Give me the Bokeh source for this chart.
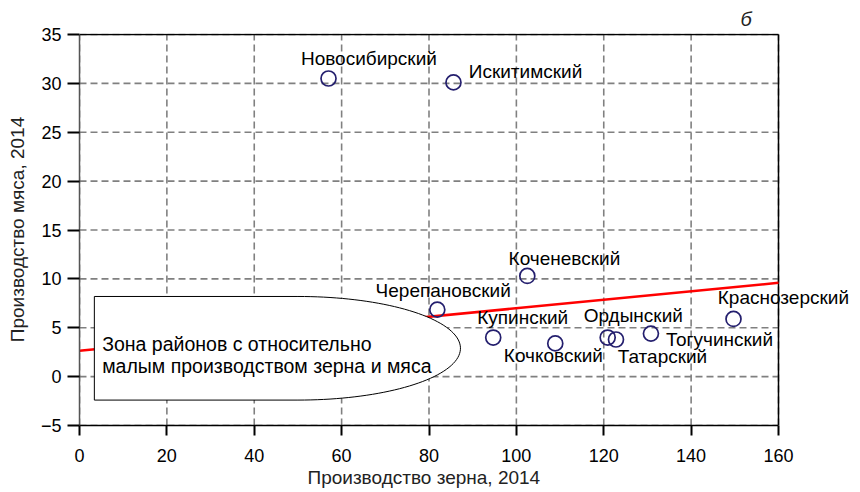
import numpy as np
from bokeh.plotting import figure
from bokeh.models import (ColumnDataSource, Range1d, FixedTicker, LabelSet, Label, Title)
from bokeh.core.properties import value
from bokeh.embed import file_html
from bokeh.resources import INLINE

# ---- data ----
districts = ["Новосибирский", "Искитимский", "Коченевский", "Черепановский", "Купинский",
             "Кочковский", "Ордынский", "Татарский", "Тогучинский", "Краснозерский"]
grain = [57.0, 85.6, 102.5, 81.9, 94.7, 108.9, 120.9, 122.8, 130.8, 149.7]
meat = [30.5, 30.1, 10.3, 6.85, 4.0, 3.4, 4.0, 3.8, 4.4, 5.9]
trend_x = [0, 160]
trend_y = [2.65, 9.6]
x_ticks = [0, 20, 40, 60, 80, 100, 120, 140, 160]
y_ticks = [-5, 0, 5, 10, 15, 20, 25, 30, 35]

# label offsets (pixels; right, up)
lab_dx = [-27.6, 15.3, -18.7, -61.7, -16, -51.4, -24, 1.7, 15, -15.7]
lab_dy = [13.3, 4.7, 11, 12.7, 13.7, -19, 16, -23.7, -12, 14.7]

FONT = "Liberation Sans"
NAVY = "#241f6e"
X0, X1, Y0, Y1 = 0, 160, -5, 35

# frame is widened to the right so that labels may run past the x=160 border
X_END = X1 * (860 - 79) / (778 - 79)
Y_END = Y1 + (Y1 - Y0) * 1.0 / (425 - 34)

p = figure(width=860, height=492, output_backend="svg", toolbar_location=None,
           x_range=Range1d(X0, X_END), y_range=Range1d(Y0, Y_END),
           min_border_left=79, min_border_right=0, min_border_top=33, min_border_bottom=67)
p.background_fill_color = "white"
p.border_fill_color = "white"
p.outline_line_color = None
p.grid.visible = False

p.title.text = "б"
p.title.text_font = FONT
p.title.text_font_size = "20px"
p.title.text_font_style = "italic"
p.title.text_color = "#222222"
p.title.align = "left"
p.title.offset = 661
p.title.standoff = 7

p.xaxis.ticker = FixedTicker(ticks=x_ticks)
p.yaxis.ticker = FixedTicker(ticks=y_ticks)
p.xaxis.bounds = (X0, X1)
p.yaxis.bounds = (Y0, Y1)
p.yaxis.major_label_overrides = {-5: "−5"}
for ax in (p.xaxis, p.yaxis):
    ax.major_label_text_font = FONT
    ax.major_label_text_font_size = "18px"
    ax.major_label_text_color = "black"
    ax.axis_label_text_font = FONT
    ax.axis_label_text_font_size = "19px"
    ax.axis_label_text_font_style = "normal"
    ax.axis_label_text_color = "#222222"
    ax.minor_tick_line_color = None
    ax.major_tick_in = 0
    ax.major_tick_line_color = "black"
    ax.major_tick_line_width = 2
p.xaxis.major_tick_out = 10
p.yaxis.major_tick_out = 12
p.xaxis.axis_line_color = "black"
p.xaxis.axis_line_width = 1.5
p.yaxis.axis_line_color = "#555555"
p.yaxis.axis_line_width = 1.5
p.xaxis.major_label_standoff = 13
p.yaxis.major_label_standoff = 6
p.yaxis.axis_label_standoff = 10
p.yaxis.axis_label = "Производство мяса, 2014"

# x-axis title centred under the data box (the frame itself is wider)
p.add_layout(Title(text="Производство зерна, 2014", align="left", offset=228,
                   text_font=FONT, text_font_size="19px", text_font_style="normal",
                   text_color="#222222", standoff=0), "below")

# dashed grid inside the data box
gxs = [[t, t] for t in x_ticks] + [[X0, X1] for _ in y_ticks]
gys = [[Y0, Y1] for _ in x_ticks] + [[t, t] for t in y_ticks]
p.multi_line(gxs, gys, line_color="#808080", line_dash="7 4", line_width=1.6)

# top and right borders of the data box
p.segment(x0=[X0, X1], y0=[Y1, Y0], x1=[X1, X1], y1=[Y1, Y1],
          line_color="black", line_width=1.5)

# trend line
p.line(trend_x, trend_y, line_color="red", line_width=2.5)

# zone shape: rectangle with elliptical right end
zx_left, zx_c, zx_tip, z_top, z_bot = 3.4, 50.0, 87.2, 8.2, -2.4
th = np.linspace(np.pi / 2, -np.pi / 2, 80)
zyc = (z_top + z_bot) / 2
arc_x = zx_c + (zx_tip - zx_c) * np.cos(th)
arc_y = zyc + (z_top - zyc) * np.sin(th)
zone_x = np.concatenate([[zx_left, zx_left], arc_x])
zone_y = np.concatenate([[z_bot, z_top], arc_y])
p.patch(zone_x, zone_y, fill_color="white", line_color="black", line_width=1)

p.add_layout(Label(x=5.2, y=3.34, text="Зона районов с относительно", text_font=FONT,
                   text_font_size="19.5px", text_color="black", text_baseline="alphabetic"))
p.add_layout(Label(x=5.2, y=1.12, text="малым производством зерна и мяса", text_font=FONT,
                   text_font_size="19.5px", text_color="black", text_baseline="alphabetic"))

src = ColumnDataSource(dict(x=grain, y=meat, name=districts, dx=lab_dx, dy=lab_dy))
p.scatter("x", "y", source=src, size=15, fill_alpha=0, line_color=NAVY, line_width=1.7)

p.add_layout(LabelSet(x="x", y="y", text="name", source=src, x_offset="dx", y_offset="dy",
                      text_font=value(FONT), text_font_size=value("19px"), text_color="black",
                      text_baseline="alphabetic", text_align="left"))

open("out.html", "w").write(file_html(p, INLINE))
